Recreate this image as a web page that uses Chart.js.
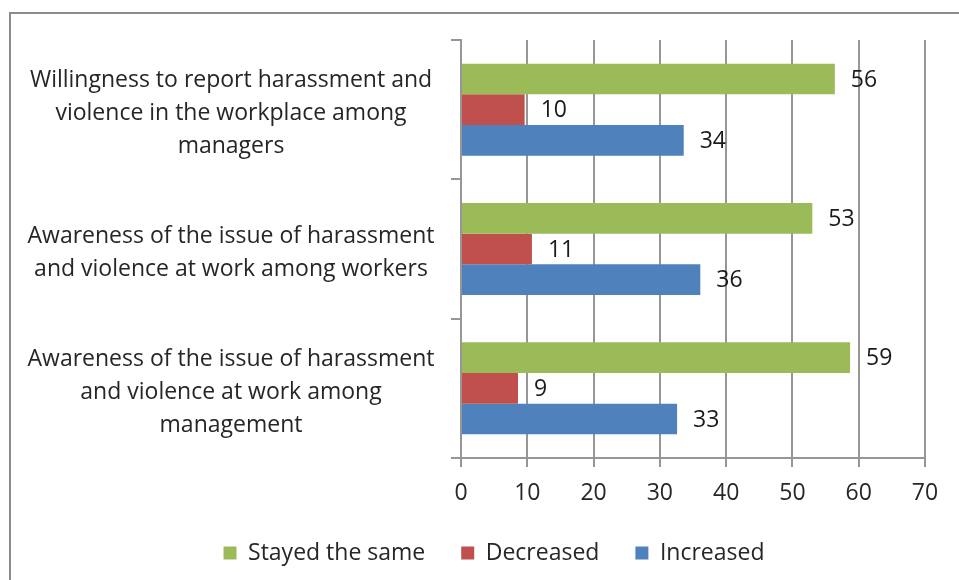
<!DOCTYPE html>
<html><head><meta charset="utf-8">
<script src="https://cdn.jsdelivr.net/npm/chart.js@4.4.0/dist/chart.umd.min.js"></script>
<style>
html,body{margin:0;padding:0;background:#fff;overflow:hidden;width:959px;height:580px;}
#frame{position:absolute;left:9px;top:12px;width:1000px;height:1000px;border:2px solid #8c8c8c;box-sizing:border-box;}
#c{position:absolute;left:0;top:0;}
</style></head><body>
<div id="frame"></div>
<canvas id="c" width="959" height="580"></canvas>
<script>
const categories = [
  ["Willingness to report harassment and", "violence in the workplace among", "managers"],
  ["Awareness of the issue of harassment", "and violence at work among workers"],
  ["Awareness of the issue of harassment", "and violence at work among", "management"]
];
const seriesNames = ["Stayed the same", "Decreased", "Increased"];
const stayedTheSame = [56.4, 53.0, 58.7];
const decreased = [9.6, 10.7, 8.6];
const increased = [33.6, 36.1, 32.6];
const xTicks = [0, 10, 20, 30, 40, 50, 60, 70];

const FONT = "'Open Sans', 'DejaVu Sans', sans-serif";
const FS = 23;
const TEXT = '#262626';
const GRID = '#969696';

// measure widest category line to center labels at x≈231
const mctx = document.createElement('canvas').getContext('2d');
mctx.font = FS + "px " + FONT;
let widest = 0;
categories.forEach(c => c.forEach(l => { widest = Math.max(widest, mctx.measureText(l).width); }));
const Y_TICK_LEN = 10;
const yPad = Math.max(2, (461 - 231) - widest / 2 - Y_TICK_LEN);

const valueLabels = {
  id: 'valueLabels',
  afterDatasetsDraw(chart) {
    const ctx = chart.ctx;
    ctx.save();
    ctx.font = FS + "px " + FONT;
    ctx.fillStyle = '#1a1a1a';
    ctx.textAlign = 'left';
    ctx.textBaseline = 'middle';
    chart.data.datasets.forEach((ds, di) => {
      chart.getDatasetMeta(di).data.forEach((bar, i) => {
        ctx.fillText(String(Math.round(ds.data[i])), bar.x + 16, bar.y + 1);
      });
    });
    ctx.restore();
  }
};

const legendPlace = {
  id: 'legendPlace',
  afterLayout(chart) {
    const lg = chart.legend;
    if (!lg) return;
    const cx = 494;
    const dx = cx - (lg.left + lg.right) / 2;
    lg.left += dx; lg.right += dx;
    const pad = lg.options.labels.padding;
    const top = 553 - pad - FS / 2;
    const h = lg.height;
    lg.top = top; lg.bottom = top + h;
  }
};

new Chart(document.getElementById('c'), {
  type: 'bar',
  data: {
    labels: categories,
    datasets: [
      { label: seriesNames[0], data: stayedTheSame, backgroundColor: '#9BBB59' },
      { label: seriesNames[1], data: decreased, backgroundColor: '#C0504D' },
      { label: seriesNames[2], data: increased, backgroundColor: '#4F81BD' }
    ]
  },
  options: {
    indexAxis: 'y',
    responsive: false,
    animation: false,
    devicePixelRatio: 1,
    layout: { padding: { left: 0, right: 34, top: 40, bottom: 0 } },
    datasets: { bar: { categoryPercentage: 0.66, barPercentage: 1.0, borderWidth: 0 } },
    scales: {
      x: {
        min: xTicks[0], max: xTicks[xTicks.length - 1],
        afterBuildTicks(s) { s.ticks = xTicks.map(v => ({ value: v })); },
        grid: { color: GRID, lineWidth: 2, tickLength: 9, drawTicks: true },
        border: { color: GRID, width: 2 },
        ticks: { color: TEXT, font: { family: FONT, size: FS }, padding: 13, maxRotation: 0 },
        afterFit(s) {
          const lh = s.chart.legend ? s.chart.legend.height : 0;
          s.height = 580 - 458 - lh;
          s.paddingLeft = 0; s.paddingRight = 0;
        }
      },
      y: {
        grid: { offset: true, drawOnChartArea: false, color: GRID, lineWidth: 2, tickLength: Y_TICK_LEN },
        border: { color: GRID, width: 2 },
        ticks: {
          color: TEXT, crossAlign: 'center', padding: yPad, labelOffset: 4,
          font: { family: FONT, size: FS, lineHeight: 33 / FS }
        },
        afterFit(s) { s.width = 461; s.paddingTop = 0; s.paddingBottom = 0; }
      }
    },
    plugins: {
      legend: {
        position: 'bottom',
        labels: { color: TEXT, font: { family: FONT, size: FS }, boxWidth: 13, boxHeight: 13, padding: 36 }
      },
      tooltip: { enabled: false },
      title: { display: false }
    }
  },
  plugins: [valueLabels, legendPlace]
});
</script>
</body></html>
